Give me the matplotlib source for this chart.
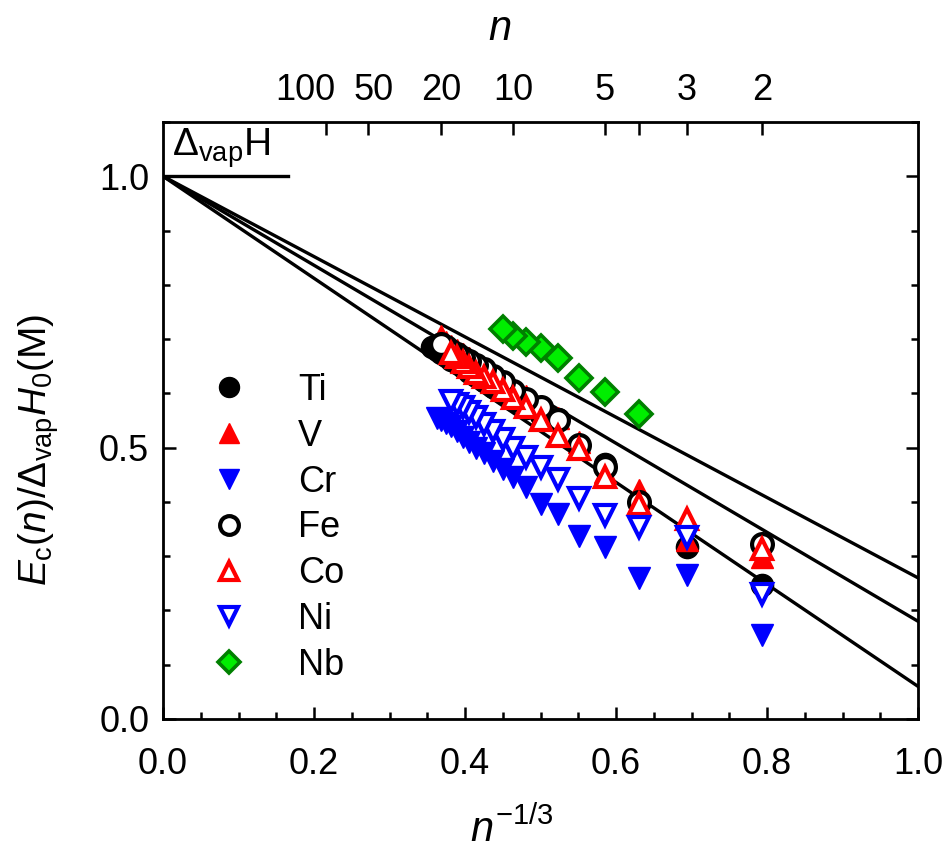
import numpy as np
import matplotlib
matplotlib.use('Agg')
import matplotlib.pyplot as plt
from matplotlib.ticker import MultipleLocator, FixedLocator, FormatStrFormatter
from matplotlib.transforms import ScaledTranslation

fam = 'Liberation Sans'
plt.rcParams['font.family'] = [fam, 'DejaVu Sans']
plt.rcParams['mathtext.fontset'] = 'custom'
plt.rcParams['mathtext.rm'] = fam
plt.rcParams['mathtext.it'] = fam + ':italic'

# cluster sizes n and normalised cohesive energies
ti_n = [2, 3, 4, 5, 6, 7, 8, 9, 10, 11, 12, 13, 14, 15, 16, 17, 18, 19, 20, 21, 22]
ti_e = [0.246, 0.317, 0.400, 0.470, 0.505, 0.552, 0.560, 0.573, 0.587, 0.600, 0.612,
        0.622, 0.632, 0.640, 0.648, 0.656, 0.662, 0.668, 0.674, 0.680, 0.686]

v_n = [2, 3, 4, 5, 6, 7, 8, 9, 10, 11, 12, 13, 14, 15, 16, 17, 18, 19, 20]
v_e = [0.298, 0.330, 0.421, 0.455, 0.510, 0.555, 0.575, 0.595, 0.610, 0.623, 0.635,
       0.645, 0.655, 0.665, 0.672, 0.680, 0.688, 0.695, 0.705]

cr_n = [2, 3, 4, 5, 6, 7, 8, 9, 10, 11, 12, 13, 14, 15, 16, 17, 18, 19, 20, 21]
cr_e = [0.154, 0.265, 0.259, 0.317, 0.338, 0.378, 0.397, 0.427, 0.445, 0.460, 0.475,
        0.490, 0.500, 0.510, 0.520, 0.530, 0.540, 0.545, 0.550, 0.555]

fe_n = [2, 4, 5, 6, 7, 8, 9, 10, 11, 12, 13, 14, 15, 16, 17, 18, 19, 20]
fe_e = [0.323, 0.400, 0.465, 0.505, 0.550, 0.575, 0.590, 0.605, 0.620, 0.632, 0.645,
        0.652, 0.660, 0.666, 0.672, 0.678, 0.685, 0.690]

co_n = [2, 3, 4, 5, 6, 7, 8, 9, 10, 11, 12, 13, 14, 15, 16, 17, 18]
co_e = [0.314, 0.369, 0.396, 0.445, 0.498, 0.522, 0.550, 0.575, 0.592, 0.607, 0.620,
        0.630, 0.638, 0.648, 0.657, 0.667, 0.675]

ni_n = [2, 3, 4, 5, 6, 7, 8, 9, 10, 11, 12, 13, 14, 15, 16, 17, 18]
ni_e = [0.231, 0.335, 0.353, 0.375, 0.408, 0.442, 0.464, 0.482, 0.500, 0.516, 0.531,
        0.543, 0.556, 0.565, 0.574, 0.580, 0.586]

nb_n = [4, 5, 6, 7, 8, 9, 10, 11]
nb_e = [0.562, 0.602, 0.629, 0.665, 0.684, 0.695, 0.706, 0.718]

# straight lines from (0, 1) to the right edge
line_ends = [0.26, 0.18, 0.06]

top_n = [100, 50, 20, 10, 5, 4, 3, 2]
top_labels = ['100', '50', '20', '10', '5', '', '3', '2']

def x_of(n):
  return np.array(n, dtype=float) ** (-1.0 / 3.0)

fig = plt.figure(figsize=(9.44, 8.59), dpi=100)
ax = fig.add_axes([0.1727, 0.163, 0.7998, 0.695])

for ye in line_ends:
  ax.plot([0, 1], [1, ye], color='black', lw=2.4, zorder=1)
ax.plot([0, 0.166], [1, 1], color='black', lw=2.4, zorder=1)

ms = 16
ax.plot(x_of(ti_n), ti_e, 'o', ls='none', color='black', ms=ms, label='Ti', zorder=3)
ax.plot(x_of(v_n), v_e, '^', ls='none', color='red', ms=ms, label='V', zorder=3)
ax.plot(x_of(cr_n), cr_e, 'v', ls='none', color='blue', ms=ms, label='Cr', zorder=3)
ax.plot(x_of(fe_n), fe_e, 'o', ls='none', mfc='white', mec='black', mew=3, ms=ms - 1,
        label='Fe', zorder=4)
ax.plot(x_of(co_n), co_e, '^', ls='none', mfc='white', mec='red', mew=3, ms=ms - 1,
        label='Co', zorder=4)
ax.plot(x_of(ni_n), ni_e, 'v', ls='none', mfc='white', mec='blue', mew=3, ms=ms - 1,
        label='Ni', zorder=4)
ax.plot(x_of(nb_n), nb_e, 'D', ls='none', mfc='#00ee00', mec='#008000', mew=2.6, ms=ms - 3,
        label='Nb', zorder=4)

ax.set_xlim(0, 1)
ax.set_ylim(0, 1.1)
ax.xaxis.set_major_locator(MultipleLocator(0.2))
ax.xaxis.set_minor_locator(MultipleLocator(0.05))
ax.yaxis.set_major_locator(MultipleLocator(0.5))
ax.yaxis.set_minor_locator(MultipleLocator(0.1))
ax.xaxis.set_major_formatter(FormatStrFormatter('%.1f'))
ax.yaxis.set_major_formatter(FormatStrFormatter('%.1f'))
ax.tick_params(which='both', direction='in', width=1.8, labelsize=26,
               top=False, right=True)
ax.tick_params(which='major', length=9)
ax.tick_params(which='minor', length=5)
ax.tick_params(axis='x', pad=20)
ax.tick_params(axis='y', pad=10)
for s in ax.spines.values():
  s.set_linewidth(2)

ax2 = ax.twiny()
ax2.set_xlim(0, 1)
ax2.xaxis.set_major_locator(FixedLocator(x_of(top_n)))
ax2.set_xticklabels(top_labels)
ax2.xaxis.set_minor_locator(FixedLocator([]))
ax2.tick_params(axis='x', direction='in', length=9, width=1.8, labelsize=26, pad=10)
# crowded labels at small n^-1/3, nudge them apart like the original
tl = ax2.get_xticklabels()
tl[0].set_transform(tl[0].get_transform() + ScaledTranslation(-0.2, 0, fig.dpi_scale_trans))
tl[1].set_transform(tl[1].get_transform() + ScaledTranslation(0.06, 0, fig.dpi_scale_trans))

ax.text(0.012, 1.012, r'$\Delta_{\mathrm{vap}}\mathrm{H}$', fontsize=28,
        ha='left', va='bottom')

ax.text(0.462, -0.185, r'$n^{\mathit{-1/3}}$', transform=ax.transAxes, fontsize=30,
        ha='center', va='center')
ax.text(0.446, 1.155, r'$n$', transform=ax.transAxes, fontsize=30,
        ha='center', va='center')
ax.text(-0.165, 0.45, r'$E_{\mathrm{c}}(n)/\Delta_{\mathrm{vap}}H_0(\mathrm{M})$',
        transform=ax.transAxes, fontsize=28, rotation=90, ha='center', va='center')

ax.legend(loc='upper left', bbox_to_anchor=(0.04, 0.61), frameon=False, fontsize=26,
          handlelength=1.0, handletextpad=1.4, labelspacing=0.3, borderpad=0,
          markerscale=0.9)

fig.savefig('out.png', dpi=100)
